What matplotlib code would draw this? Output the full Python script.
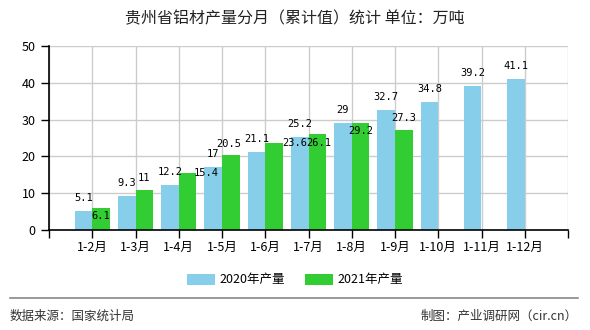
import matplotlib
matplotlib.use("Agg")
import matplotlib.pyplot as plt
from matplotlib.patches import Patch
from matplotlib.lines import Line2D
import numpy as np

plt.rcParams['font.family'] = ['Noto Sans CJK SC', 'DejaVu Sans']

### data
months = ["1-2月", "1-3月", "1-4月", "1-5月", "1-6月", "1-7月",
          "1-8月", "1-9月", "1-10月", "1-11月", "1-12月"]
out_2020 = [5.1, 9.3, 12.2, 17, 21.1, 25.2, 29, 32.7, 34.8, 39.2, 41.1]
out_2021 = [6.1, 11, 15.4, 20.5, 23.6, 26.1, 29.2, 27.3]

# label nudges (pixels) so the value texts sit like in the original
nudge_2021 = [(0, -8), (0, 12), (19, 0), (-2, 11), (21, 0), (1, -9), (0, -8), (0, 12)]

c2020 = "#87CEEB"
c2021 = "#32CD32"

fig = plt.figure(figsize=(5.9, 3.3), dpi=100)
ax = fig.add_axes([49/590, 1-230/330, 519/590, 184/330])

x = np.arange(1, len(months) + 1)
w = 0.405
ax.bar(x[:len(out_2020)] - w/2, out_2020, w, color=c2020, zorder=3)
ax.bar(x[:len(out_2021)] + w/2, out_2021, w, color=c2021, zorder=3)

px = 0.72  # points per pixel at 100 dpi
for xi, v in zip(x, out_2020):
    ax.annotate(f"{v:g}", (xi - w/2, v), xytext=(0, 13*px), textcoords="offset points",
                ha="center", va="center", fontsize=7.5, family="DejaVu Sans Mono", zorder=5)
for xi, v, (dx, dy) in zip(x, out_2021, nudge_2021):
    ax.annotate(f"{v:g}", (xi + w/2, v), xytext=(dx*px, dy*px), textcoords="offset points",
                ha="center", va="center", fontsize=7.5, family="DejaVu Sans Mono", zorder=5)

ax.set_xlim(0, 12)
ax.set_ylim(0, 50)
ax.set_yticks(range(0, 51, 10))
ax.set_xticks(range(0, 13))
ax.set_xticklabels([""] + months + [""])
ax.tick_params(axis="both", labelsize=9, length=6, width=1, colors="black")
ax.tick_params(axis="x", pad=2)
ax.grid(True, color="#cccccc", linewidth=1, zorder=0)
for s in ["top", "right"]:
    ax.spines[s].set_visible(False)
for s in ["left", "bottom"]:
    ax.spines[s].set_linewidth(1.2)
    ax.spines[s].set_zorder(4)

fig.text(0.5, 1-19/330, "贵州省铝材产量分月（累计值）统计 单位：万吨",
         ha="center", va="center", fontsize=11.5, color="#222222")

handles = [Patch(facecolor=c2020, label="2020年产量"),
           Patch(facecolor=c2021, label="2021年产量")]
fig.legend(handles=handles, loc="center", bbox_to_anchor=(0.5, 1-280/330), ncol=2,
           frameon=False, fontsize=9, handlelength=2.2, handleheight=1.0,
           handletextpad=0.4, columnspacing=1.6)

fig.add_artist(Line2D([10/590, 578/590], [1-298/330, 1-298/330], color="#888888", lw=1.2))
fig.text(10/590, 1-316/330, "数据来源：国家统计局", ha="left", va="center",
         fontsize=9, color="#333333")
fig.text(578/590, 1-316/330, "制图：产业调研网（cir.cn）", ha="right", va="center",
         fontsize=9, color="#333333")

fig.savefig("out.png", dpi=100)
